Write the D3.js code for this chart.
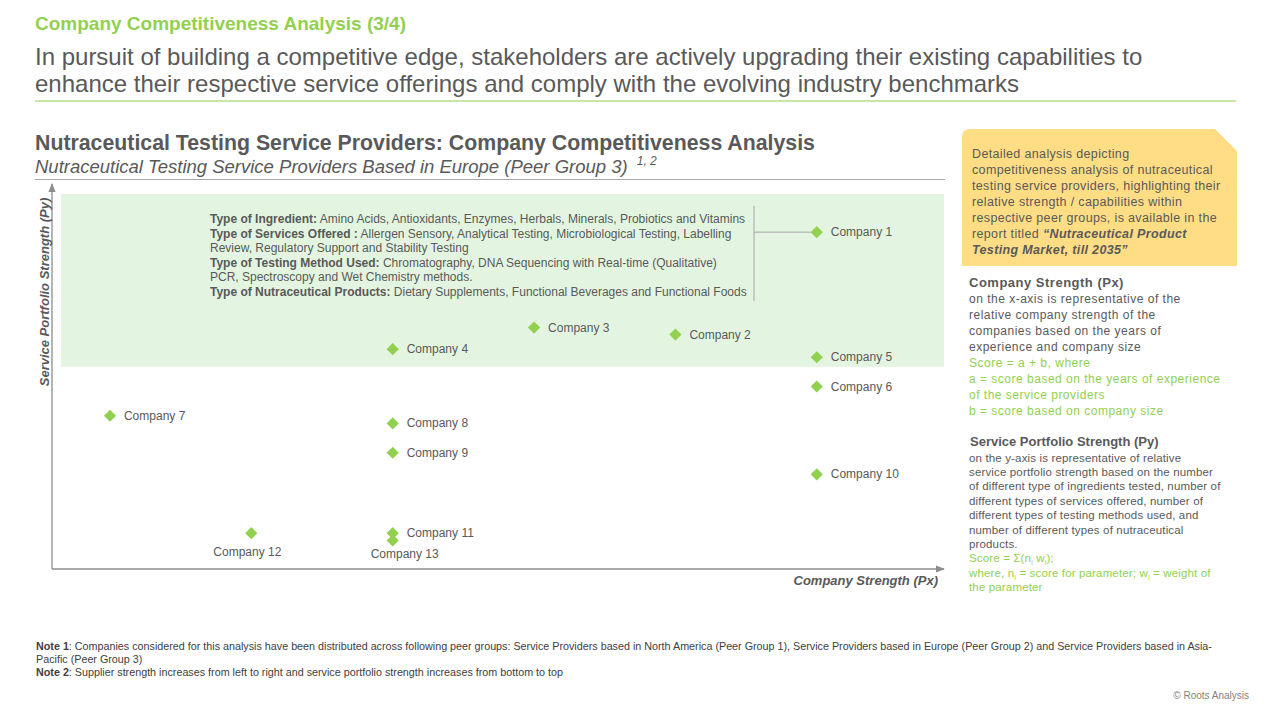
<!DOCTYPE html>
<html>
<head>
<meta charset="utf-8">
<script src="https://cdn.jsdelivr.net/npm/d3@7"></script>
<style>
  body { margin: 0; background: #fff; }
  svg text { font-family: "Liberation Sans", Arial, sans-serif; }
</style>
</head>
<body>
<div id="chart"></div>
<script>
// company positions
var companies = ["Company 1", "Company 2", "Company 3", "Company 4", "Company 5", "Company 6", "Company 7",
                 "Company 8", "Company 9", "Company 10", "Company 11", "Company 12", "Company 13"];
var companyStrength = [6, 5, 4, 3, 6, 6, 1, 3, 3, 6, 3, 2, 3];
var portfolioStrength = [87.5, 60.9, 62.7, 57.1, 55.0, 47.4, 39.8, 37.8, 30.2, 24.6, 9.3, 9.3, 7.4];

var annotationLines = [
    ["Type of Ingredient:", " Amino Acids, Antioxidants, Enzymes, Herbals, Minerals, Probiotics and Vitamins"],
    ["Type of Services Offered :", " Allergen Sensory, Analytical Testing, Microbiological Testing, Labelling"],
    ["", "Review, Regulatory Support and Stability Testing"],
    ["Type of Testing Method Used:", " Chromatography, DNA Sequencing with Real-time (Qualitative)"],
    ["", "PCR, Spectroscopy and Wet Chemistry methods."],
    ["Type of Nutraceutical Products:", " Dietary Supplements, Functional Beverages and Functional Foods"]
];

var green = "#92d050", grey = "#595959", axisGrey = "#8c8c8c";

var svg = d3.select("#chart").append("svg")
    .attr("width", 1280)
    .attr("height", 720);

var defs = svg.append("defs");
defs.append("marker")
    .attr("id", "arrow")
    .attr("viewBox", "0 0 10 10")
    .attr("refX", 9).attr("refY", 5)
    .attr("markerWidth", 7).attr("markerHeight", 7)
    .attr("orient", "auto")
  .append("path")
    .attr("d", "M0,1 L10,5 L0,9 Z")
    .attr("fill", axisGrey);

// ---- header ----
svg.append("text")
    .attr("x", 35).attr("y", 30)
    .style("font-size", "19px").style("font-weight", "bold")
    .attr("fill", green)
    .text("Company Competitiveness Analysis (3/4)");

svg.append("text")
    .attr("x", 35).attr("y", 65)
    .style("font-size", "24px").attr("fill", grey)
    .text("In pursuit of building a competitive edge, stakeholders are actively upgrading their existing capabilities to");
svg.append("text")
    .attr("x", 35).attr("y", 92)
    .style("font-size", "24px").attr("fill", grey)
    .text("enhance their respective service offerings and comply with the evolving industry benchmarks");

svg.append("line")
    .attr("x1", 35).attr("x2", 1236).attr("y1", 101).attr("y2", 101)
    .attr("stroke", green).attr("stroke-width", 1.2);

// ---- chart titles ----
svg.append("text")
    .attr("x", 35).attr("y", 150)
    .style("font-size", "21.3px").style("font-weight", "bold")
    .attr("fill", grey)
    .text("Nutraceutical Testing Service Providers: Company Competitiveness Analysis");

var sub = svg.append("text")
    .attr("x", 35).attr("y", 173)
    .style("font-size", "18.5px").style("font-style", "italic")
    .attr("fill", grey);
sub.append("tspan").text("Nutraceutical Testing Service Providers Based in Europe (Peer Group 3) ");
sub.append("tspan").attr("dy", -8).attr("dx", 4).style("font-size", "12px").text("1, 2");

svg.append("line")
    .attr("x1", 35).attr("x2", 945).attr("y1", 179.5).attr("y2", 179.5)
    .attr("stroke", "#a6a6a6").attr("stroke-width", 1);

// ---- plot ----
var plot = {left: 52, right: 944, top: 184, bottom: 569};

var x = d3.scaleLinear().domain([0.59, 6.9]).range([plot.left, plot.right]);
var y = d3.scaleLinear().domain([0, 100]).range([plot.bottom, plot.bottom - 385]);

// top tier band
svg.append("rect")
    .attr("x", plot.left + 9)
    .attr("y", y(97.4))
    .attr("width", plot.right - plot.left - 9)
    .attr("height", y(52.5) - y(97.4))
    .attr("fill", "#e3f5e0");

// axes
svg.append("line")
    .attr("x1", plot.left).attr("x2", plot.left)
    .attr("y1", plot.bottom).attr("y2", plot.top)
    .attr("stroke", axisGrey).attr("stroke-width", 1.3)
    .attr("marker-end", "url(#arrow)");
svg.append("line")
    .attr("x1", plot.left).attr("x2", plot.right)
    .attr("y1", plot.bottom).attr("y2", plot.bottom)
    .attr("stroke", axisGrey).attr("stroke-width", 1.3)
    .attr("marker-end", "url(#arrow)");

svg.append("text")
    .attr("transform", "translate(49,292) rotate(-90)")
    .attr("text-anchor", "middle")
    .style("font-size", "13px").style("font-weight", "bold").style("font-style", "italic")
    .attr("fill", grey)
    .text("Service Portfolio Strength (Py)");

svg.append("text")
    .attr("x", 938).attr("y", 585)
    .attr("text-anchor", "end")
    .style("font-size", "13px").style("font-weight", "bold").style("font-style", "italic")
    .attr("fill", grey)
    .text("Company Strength (Px)");

// annotation for company 1
var ann = svg.append("g");
annotationLines.forEach(function(l, i) {
    var t = ann.append("text")
        .attr("x", 210).attr("y", 223 + i * 14.5)
        .style("font-size", "12px").attr("fill", grey);
    if (l[0]) t.append("tspan").style("font-weight", "bold").text(l[0]);
    t.append("tspan").text(l[1]);
});
ann.append("line")
    .attr("x1", 754).attr("x2", 754).attr("y1", 206).attr("y2", 301)
    .attr("stroke", "#a6a6a6");
ann.append("line")
    .attr("x1", 754).attr("x2", x(companyStrength[0]) - 6)
    .attr("y1", y(portfolioStrength[0])).attr("y2", y(portfolioStrength[0]))
    .attr("stroke", "#a6a6a6");

// points
var below = ["Company 12", "Company 13"];
var pts = svg.selectAll("g.pt")
    .data(companies.map(function(c, i) { return {name: c, px: companyStrength[i], py: portfolioStrength[i]}; }))
    .enter().append("g")
    .attr("class", "pt")
    .attr("transform", function(d) { return "translate(" + x(d.px) + "," + y(d.py) + ")"; });

pts.append("path")
    .attr("d", d3.symbol().type(d3.symbolDiamond2).size(95))
    .attr("fill", green);

pts.append("text")
    .attr("x", function(d) { return below.indexOf(d.name) >= 0 ? (d.name == "Company 12" ? -4 : 12) : 14; })
    .attr("y", function(d) { return below.indexOf(d.name) >= 0 ? (d.name == "Company 12" ? 23 : 17) : 4; })
    .attr("text-anchor", function(d) { return below.indexOf(d.name) >= 0 ? "middle" : "start"; })
    .style("font-size", "12px").attr("fill", grey)
    .text(function(d) { return d.name; });

// ---- right panel ----
svg.append("path")
    .attr("d", "M962,137 Q962,129 970,129 L1215,129 L1237,151 L1237,266 L962,266 Z")
    .attr("fill", "#ffdd85");

var boxLines = [
    "Detailed analysis depicting",
    "competitiveness analysis of nutraceutical",
    "testing service providers, highlighting their",
    "relative strength / capabilities within",
    "respective peer groups, is available in the"
];
boxLines.forEach(function(s, i) {
    svg.append("text").attr("x", 972).attr("y", 158 + i * 16)
        .style("font-size", "12.5px").style("letter-spacing", "0.35px")
        .attr("fill", grey).text(s);
});
var bt = svg.append("text").attr("x", 972).attr("y", 238)
    .style("font-size", "12.5px").style("letter-spacing", "0.35px").attr("fill", grey);
bt.append("tspan").text("report titled ");
bt.append("tspan").style("font-weight", "bold").style("font-style", "italic").text("\u201cNutraceutical Product");
svg.append("text").attr("x", 972).attr("y", 254)
    .style("font-size", "12.5px").style("letter-spacing", "0.35px")
    .style("font-weight", "bold").style("font-style", "italic")
    .attr("fill", grey).text("Testing Market, till 2035\u201d");

svg.append("text").attr("x", 969).attr("y", 287)
    .style("font-size", "13px").style("letter-spacing", "0.5px").style("font-weight", "bold").attr("fill", grey)
    .text("Company Strength (Px)");
var pxLines = [
    ["on the x-axis is representative of the", grey],
    ["relative company strength of the", grey],
    ["companies based on the years of", grey],
    ["experience and company size", grey],
    ["Score = a + b, where", green],
    ["a = score based on the years of experience", green],
    ["of the service providers", green],
    ["b = score based on company size", green]
];
pxLines.forEach(function(l, i) {
    svg.append("text").attr("x", 969).attr("y", 303 + i * 16)
        .style("font-size", "12px").style("letter-spacing", "0.5px")
        .attr("fill", l[1]).text(l[0]);
});

svg.append("text").attr("x", 970).attr("y", 446)
    .style("font-size", "13px").style("font-weight", "bold").attr("fill", grey)
    .text("Service Portfolio Strength (Py)");
var pyLines = [
    "on the y-axis is representative of relative",
    "service portfolio strength based on the number",
    "of different type of ingredients tested, number of",
    "different types of services offered, number of",
    "different types of testing methods used, and",
    "number of different types of nutraceutical",
    "products."
];
pyLines.forEach(function(s, i) {
    svg.append("text").attr("x", 969).attr("y", 461.5 + i * 14.4)
        .style("font-size", "11.5px").style("letter-spacing", "0.15px")
        .attr("fill", grey).text(s);
});
var s1 = svg.append("text").attr("x", 969).attr("y", 562)
    .style("font-size", "11.5px").style("letter-spacing", "0.15px").attr("fill", green);
s1.append("tspan").text("Score = \u03a3(n");
s1.append("tspan").attr("dy", 3).style("font-size", "7px").text("i");
s1.append("tspan").attr("dy", -3).text(" w");
s1.append("tspan").attr("dy", 3).style("font-size", "7px").text("i");
s1.append("tspan").attr("dy", -3).text(");");
var s2 = svg.append("text").attr("x", 969).attr("y", 577)
    .style("font-size", "11.5px").style("letter-spacing", "0.15px").attr("fill", green);
s2.append("tspan").text("where, n");
s2.append("tspan").attr("dy", 3).style("font-size", "7px").text("i");
s2.append("tspan").attr("dy", -3).text(" = score for parameter; w");
s2.append("tspan").attr("dy", 3).style("font-size", "7px").text("i");
s2.append("tspan").attr("dy", -3).text(" = weight of");
svg.append("text").attr("x", 969).attr("y", 591)
    .style("font-size", "11.5px").style("letter-spacing", "0.15px").attr("fill", green).text("the parameter");

// ---- notes ----
var notes = [
    ["Note 1", ": Companies considered for this analysis have been distributed across following peer groups: Service Providers based in North America (Peer Group 1), Service Providers based in Europe (Peer Group 2) and Service Providers based in Asia-"],
    ["", "Pacific (Peer Group 3)"],
    ["Note 2", ": Supplier strength increases from left to right and service portfolio strength increases from bottom to top"]
];
notes.forEach(function(n, i) {
    var t = svg.append("text").attr("x", 36).attr("y", 650 + i * 13)
        .style("font-size", "10.75px").attr("fill", "#404040");
    if (n[0]) t.append("tspan").style("font-weight", "bold").text(n[0]);
    t.append("tspan").text(n[1]);
});

svg.append("text").attr("x", 1249).attr("y", 699)
    .attr("text-anchor", "end")
    .style("font-size", "10px").attr("fill", "#7f7f7f")
    .text("\u00a9 Roots Analysis");
</script>
</body>
</html>
